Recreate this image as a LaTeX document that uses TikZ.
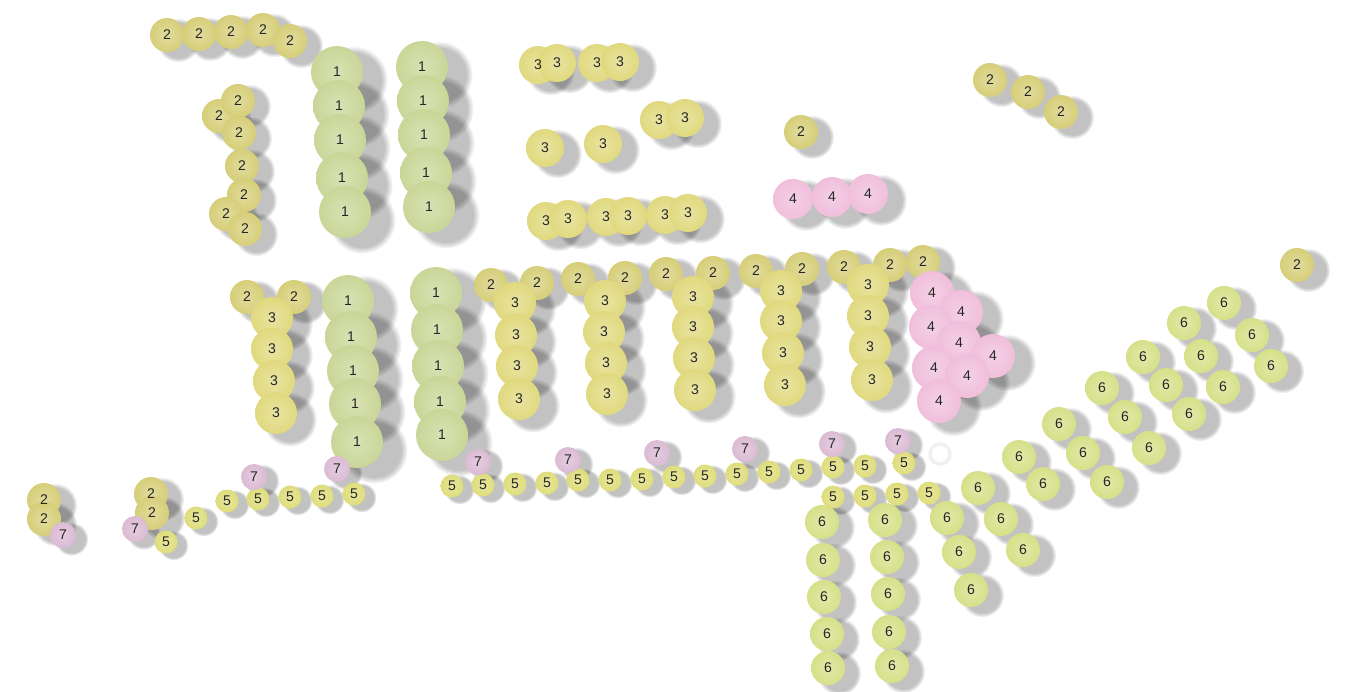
\documentclass[tikz,border=0pt]{standalone}
\usepackage{fontspec}
\setsansfont{Liberation Sans}
\usetikzlibrary{fadings}
\definecolor{cone}{HTML}{C9D697}
\definecolor{ctwo}{HTML}{D6CE78}
\definecolor{cthree}{HTML}{E0D97E}
\definecolor{cfour}{HTML}{F0BEDC}
\definecolor{cfive}{HTML}{DEDD7A}
\definecolor{csix}{HTML}{D6E088}
\definecolor{cseven}{HTML}{DBBAD4}
\tikzset{
  ballbase/.style={circle, inner sep=0pt, draw=none},
  ballfill/.style={ballbase, shading=radial, inner color=#1!72!white, outer color=#1},
  lbl/.style={inner sep=0pt, font=\sffamily\fontsize{8}{9}\selectfont, text=black!85},
  shadowstyle/.style={fill=black, fill opacity=0.24, path fading=circle with fuzzy edge 20 percent}
}
\newcommand\shadowset[2]{%
  \foreach \x/\y in #2{%
    \fill[shadowstyle] (\x+0.65*#1,\y+0.3*#1) circle[radius={1.3*#1*0.02cm}];}}
\newcommand\ballset[4]{%
  \foreach \x/\y in #4{%
    \node[ballfill=#2, minimum size={2*#1*0.02cm}, name=b#3-\x-\y] at (\x,\y) {};}}
\newcommand\labelset[2]{%
  \foreach \x/\y in #2{%
    \node[lbl, name=t#1-\x-\y] at (b#1-\x-\y.center) {#1};}}
% lists
\def\Lone{337/72,339/106,340/140,342/178,345/212,
422/67,423/101,424/135,426/173,429/207,
348/301,351/337,353/371,355/404,357/442,
436/293,437/330,438/366,440/402,442/435}
\def\Ltwo{167/35,199/34,231/32,263/30,290/41,
219/116,238/101,239/133,242/166,244/195,226/214,245/229,
247/297,294/297,491/285,537/283,578/279,625/278,666/274,713/273,
756/271,802/269,844/267,890/265,923/262,
801/132,990/80,1028/92,1061/112,1297/265,
44/500,44/519,151/494,152/513}
\def\Lthreep{538/65,557/63,597/63,620/62,659/120,685/118,
546/221,568/219,606/217,628/216,665/215,688/213,545/148,603/144}
\def\Lthreet{272/318,272/349,274/381,276/413,
515/303,516/335,517/366,519/399,
605/301,604/332,606/363,607/394,
693/297,693/327,694/358,695/390,
781/291,781/321,783/353,785/385,
868/285,868/316,870/347,872/380}
\def\Lfoura{793/199,832/197,868/194}
\def\Lfourb{932/293,961/312,931/327,959/343,993/356,934/368,967/376,939/401}
\def\Lfive{166/542,196/518,227/501,258/499,290/497,322/496,354/494,
452/486,483/485,515/484,547/483,578/480,610/480,642/479,674/477,
705/476,737/474,769/472,801/470,833/467,865/466,904/463,
833/497,865/496,897/494,929/493}
\def\Lsix{822/522,823/560,824/597,827/634,828/668,
885/520,887/557,888/594,889/632,892/666,
947/518,959/552,971/590,978/488,1001/519,1023/550,
1019/457,1043/484,1059/424,1083/453,1107/482,
1102/388,1125/417,1149/448,1143/357,1166/385,1189/414,
1184/323,1201/356,1223/387,1224/303,1252/335,1271/366}
\def\Lseven{63/535,135/529,254/477,337/469,478/462,568/460,657/453,745/449,832/444,898/441}
\begin{document}
\begin{tikzpicture}[x=0.02cm,y=-0.02cm]
\useasboundingbox (0,0) rectangle (1345,691);
\fill[white] (0,0) rectangle (1345,691);
% shadows
\shadowset{26}{\Lone}
\shadowset{17}{\Ltwo}
\shadowset{19}{\Lthreep}
\shadowset{21}{\Lthreet}
\shadowset{20}{\Lfoura}
\shadowset{22}{\Lfourb}
\shadowset{11.5}{\Lfive}
\shadowset{17}{\Lsix}
\shadowset{13}{\Lseven}
% faint ghost ring
\draw[black!6, line width=2pt] (940,454) circle[radius={10*0.02cm}];
% balls
\ballset{17}{ctwo}{2}{\Ltwo}
\ballset{26}{cone}{1}{\Lone}
\ballset{19}{cthree}{3}{\Lthreep}
\ballset{21}{cthree}{3}{\Lthreet}
\ballset{20}{cfour}{4}{\Lfoura}
\ballset{22}{cfour}{4}{\Lfourb}
\ballset{17}{csix}{6}{\Lsix}
\ballset{11.5}{cfive}{5}{\Lfive}
\ballset{13}{cseven}{7}{\Lseven}
% labels
\labelset{2}{\Ltwo}
\labelset{1}{\Lone}
\labelset{3}{\Lthreep}
\labelset{3}{\Lthreet}
\labelset{4}{\Lfoura}
\labelset{4}{\Lfourb}
\labelset{6}{\Lsix}
\labelset{5}{\Lfive}
\labelset{7}{\Lseven}
\end{tikzpicture}
\end{document}
